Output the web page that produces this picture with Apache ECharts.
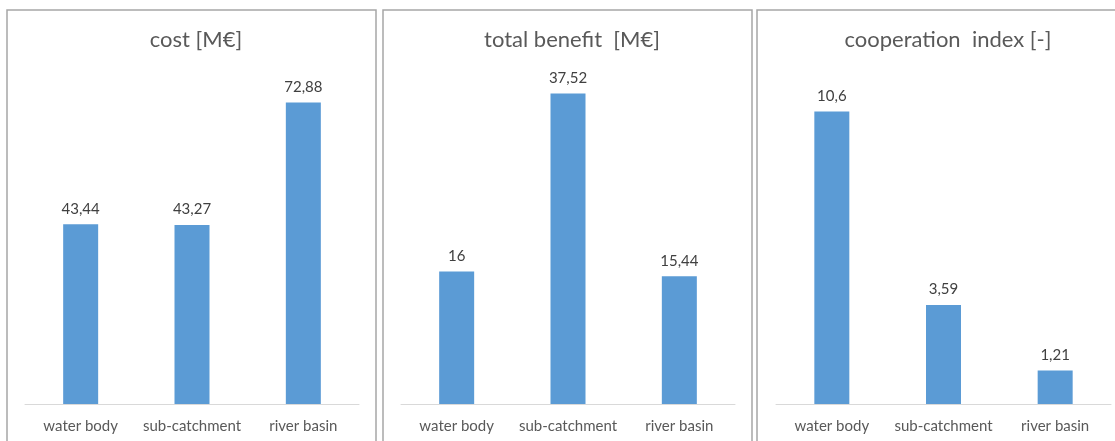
<!DOCTYPE html>
<html>
<head>
<meta charset="utf-8">
<script src="https://cdn.jsdelivr.net/npm/echarts@6/dist/echarts.min.js"></script>
<style>html,body{margin:0;padding:0;background:#fff;}#c{width:1115px;height:441px;}</style>
</head>
<body>
<div id="c"></div>
<script>
const categories = ['water body', 'sub-catchment', 'river basin'];
const titles = ['cost [M€]', 'total benefit  [M€]', 'cooperation  index [-]'];
const costValues = [43.44, 43.27, 72.88];
const benefitValues = [16, 37.52, 15.44];
const cooperationValues = [10.6, 3.59, 1.21];
const axisMax = [80, 40, 12];

const seriesData = [costValues, benefitValues, cooperationValues];
const gridLeft = [25, 401, 776];
const gridWidth = [334, 334, 335];
const titleCenter = [191, 567, 943];
const panelX = [7, 383, 757];
const panelW = [369, 369, 370];
const FONT = 'Lato';

const chart = echarts.init(document.getElementById('c'));
const option = {
  backgroundColor: '#ffffff',
  animation: false,
  textStyle: { fontFamily: FONT },
  graphic: panelX.map((x, i) => ({
    type: 'rect', z: -10, silent: true,
    shape: { x: x, y: 10, width: panelW[i], height: 460 },
    style: { fill: '#ffffff', stroke: '#a6a6a6', lineWidth: 1.5 }
  })),
  title: titles.map((t, i) => ({
    text: t, left: titleCenter[i], top: 24, textAlign: 'center',
    textStyle: { fontFamily: FONT, fontSize: 22, fontWeight: 'normal', color: '#595959' }
  })),
  grid: gridLeft.map((l, i) => ({ left: l, width: gridWidth[i], top: 73, bottom: 37 })),
  xAxis: seriesData.map((d, i) => ({
    type: 'category', gridIndex: i, data: categories,
    axisLine: { lineStyle: { color: '#d9d9d9', width: 1 } },
    axisTick: { show: false },
    axisLabel: { color: '#595959', fontSize: 15, margin: 15, fontFamily: FONT, interval: 0 }
  })),
  yAxis: seriesData.map((d, i) => ({
    type: 'value', gridIndex: i, min: 0, max: axisMax[i], show: false, splitLine: { show: false }
  })),
  series: seriesData.map((d, i) => ({
    type: 'bar', xAxisIndex: i, yAxisIndex: i, data: d, barWidth: 35,
    itemStyle: { color: '#5b9bd5' },
    label: {
      show: true, position: 'top', distance: 8, color: '#404040', fontSize: 15, fontFamily: FONT,
      formatter: p => String(p.value).replace('.', ',')
    }
  }))
};
chart.setOption(option);
</script>
</body>
</html>
